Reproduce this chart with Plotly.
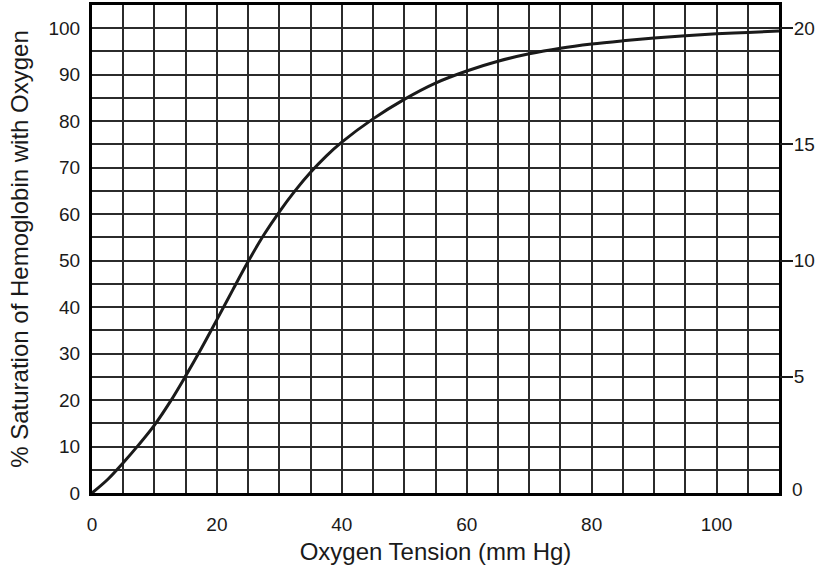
import plotly.graph_objects as go

# oxygen dissociation curve
po2 = [0, 2.5, 5, 7.5, 10, 12.5, 15, 17.5, 20, 22.5, 25, 27.5, 30, 32.5, 35,
       37.5, 40, 45, 50, 55, 60, 65, 70, 75, 80, 85, 90, 95, 100, 105, 110]
saturation = [0, 2.9, 6.5, 10.4, 14.6, 19.6, 25.2, 31.1, 37.3, 43.6, 49.8, 55.5,
              60.5, 65, 69, 72.5, 75.5, 80.5, 84.7, 88.2, 90.8, 92.9, 94.5,
              95.7, 96.6, 97.3, 97.9, 98.4, 98.8, 99.1, 99.4]

x_ticks = [0, 20, 40, 60, 80, 100]
y_ticks = [0, 10, 20, 30, 40, 50, 60, 70, 80, 90, 100]
vol_ticks = [5, 10, 15, 20]   # right axis, 0 added as a plain label

FONT = "Liberation Sans, Arial, sans-serif"
INK = "#1a1a1a"
GRID = "#2b2b2b"

fig = go.Figure()

fig.add_trace(go.Scatter(
    x=po2, y=saturation, mode="lines",
    line=dict(color=INK, width=3, shape="spline", smoothing=1.0),
    showlegend=False, hoverinfo="skip",
))

# invisible trace so the right-hand axis is drawn
fig.add_trace(go.Scatter(
    x=[0, 110], y=[0, 21], yaxis="y2", mode="lines",
    line=dict(width=0), opacity=0, showlegend=False, hoverinfo="skip",
))

fig.update_layout(
    width=817, height=569,
    margin=dict(l=92, r=38, t=5, b=76),
    paper_bgcolor="white", plot_bgcolor="white",
    font=dict(family=FONT, color=INK, size=19),
    xaxis=dict(
        range=[0, 110], tickvals=x_ticks, ticks="", automargin=False,
        showgrid=True, gridcolor=GRID, gridwidth=1.5,
        minor=dict(dtick=5, tick0=0, showgrid=True, gridcolor=GRID, gridwidth=1.5),
        showline=True, linecolor="black", linewidth=3, mirror=True,
        zeroline=False, ticklabelstandoff=12,
        title=dict(text="Oxygen Tension (mm Hg)", font=dict(size=24), standoff=10),
    ),
    yaxis=dict(
        range=[0, 105], tickvals=y_ticks, ticks="", automargin=False,
        showgrid=True, gridcolor=GRID, gridwidth=1.5,
        minor=dict(dtick=5, tick0=0, showgrid=True, gridcolor=GRID, gridwidth=1.5),
        showline=True, linecolor="black", linewidth=3, mirror=True,
        zeroline=False, ticklabelstandoff=5,
        title=dict(text="% Saturation of Hemoglobin with Oxygen",
                   font=dict(size=24), standoff=14),
    ),
    yaxis2=dict(
        range=[0, 21], overlaying="y", side="right", automargin=False,
        tickvals=vol_ticks, ticks="outside", ticklen=13, tickwidth=1.5,
        tickcolor=INK, showgrid=False, zeroline=False, showline=False,
        ticklabelstandoff=-3,
    ),
)

fig.add_annotation(
    text="0", xref="paper", x=1, yref="y2", y=0,
    xanchor="left", yanchor="middle", xshift=11, yshift=4,
    showarrow=False, font=dict(family=FONT, size=19, color=INK),
)

# the page body has a default 8px margin; drop it so the figure sits at 0,0
fig.write_html("out.html", config={"displayModeBar": False},
               post_script="document.body.style.margin='0px';")
